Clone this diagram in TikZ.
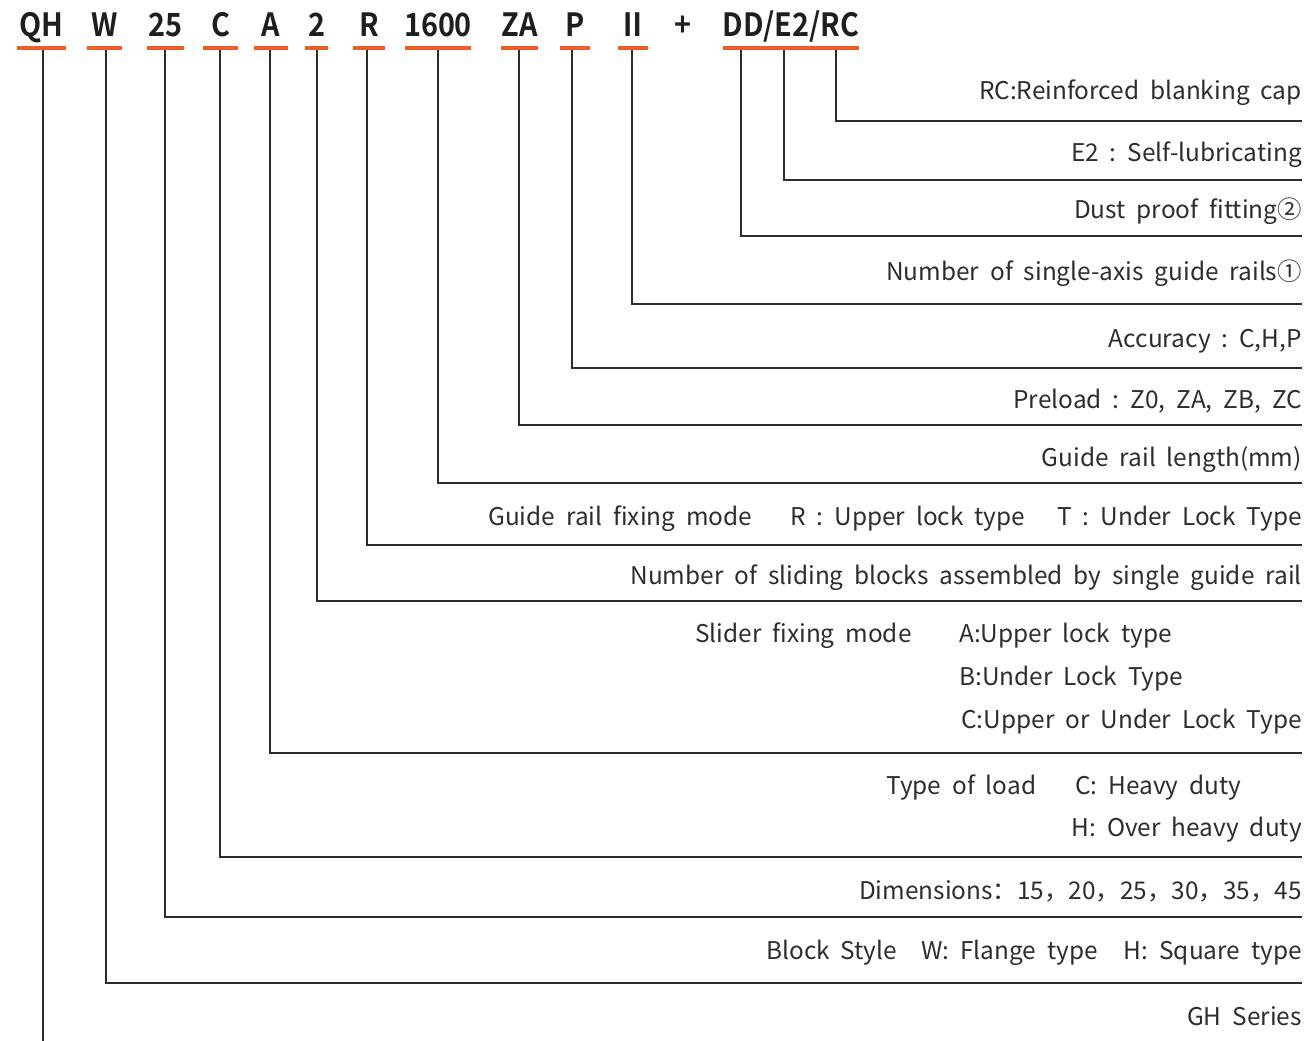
\documentclass[tikz,border=0pt]{standalone}
\usepackage{fontspec}
\setmainfont{Noto Sans CJK SC}
\newfontfamily\codefont{Noto Sans CJK SC Bold}[FakeStretch=0.9]
\usepackage{tikz}
\usetikzlibrary{positioning, calc}
\usepackage{xcolor}
\definecolor{ink}{RGB}{45,45,45}
\definecolor{codeink}{RGB}{30,30,30}
\definecolor{tangerine}{RGB}{241,92,40}

\begin{document}
\begin{tikzpicture}[x=0.75pt, y=-0.75pt,
    code/.style={font=\codefont\fontsize{24}{28}\selectfont, text=codeink, inner sep=0pt, anchor=base},
    bar/.style={tangerine, line width=2.4pt},
    leader/.style={ink, line width=1.5pt},
    desc/.style={font=\fontsize{18.3}{22}\selectfont, text=ink, inner sep=0pt, anchor=base east},
    opt/.style={font=\fontsize{18.3}{22}\selectfont, text=ink, inner sep=0pt, anchor=base west}]
  \useasboundingbox (0,0) rectangle (1305,1041);
  % ordering code with orange bars
  \foreach \name/\txt/\xl/\xr in {qh/QH/17/66, w/W/87/122, size/25/147/184, load/C/203/238,
      fix/A/254/288, nblk/2/305/328, rfix/R/353/385, len/1600/405/471, pre/ZA/501/538,
      acc/P/560/590, nrail/Ⅱ/618/648, opt/DD\slash E2\slash RC/723/859} {
    \node[code] (c-\name) at ({(\xl+\xr)/2}, 37) {\txt};
    \draw[bar] (\xl, 48) -- (\xr, 48);
  }
  \node[code] (c-plus) at (683, 37) {+};
  % leader lines
  \foreach \name/\xv/\yv in {rc/836/121, e2/784/180, dd/741/236, nrail/632/304, acc/572/368,
      pre/519/425, len/438/483, rfix/367/545, nblk/317/601, fix/270/753, load/220/857,
      size/165/917, w/106/983} {
    \coordinate (top-\name) at (\xv, 50);
    \coordinate (end-\name) at (1302, \yv);
    \draw[leader] (top-\name) |- (end-\name);
  }
  \coordinate (top-qh) at (43, 50);
  \coordinate (end-qh) at (43, 1041);
  \draw[leader] (top-qh) -- (end-qh);
  % descriptions
  \node[desc] (d-rc) at (1302, 100) {RC:Reinforced\ \ blanking\ \ cap};
  \node[desc] (d-e2) at (1302, 162) {E2\ \ :\ \ Self-lubricating};
  \node[desc] (d-dd) at (1302, 219) {Dust\ \ proof\ \ fitting②};
  \node[desc] (d-nrail) at (1302, 280) {Number\ \ of\ \ single-axis\ \ guide\ \ rails①};
  \node[desc] (d-acc) at (1302, 347) {Accuracy\ \ :\ \ C,H,P};
  \node[desc] (d-pre) at (1302, 408) {Preload\ \ :\ \ Z0,\ \ ZA,\ \ ZB,\ \ ZC};
  \node[desc] (d-len) at (1302, 466) {Guide\ \ rail\ \ length(mm)};
  \node[opt] (d-rfix) at (488, 525) {Guide\ \ rail\ \ fixing\ \ mode};
  \node[opt] (d-rfix-r) at (790, 525) {R\ \ :\ \ Upper\ \ lock\ \ type};
  \node[desc] (d-rfix-t) at (1302, 525) {T\ \ :\ \ Under\ \ Lock\ \ Type};
  \node[desc] (d-nblk) at (1302, 584) {Number\ \ of\ \ sliding\ \ blocks\ \ assembled\ \ by\ \ single\ \ guide\ \ rail};
  \node[opt] (d-fix) at (695, 642) {Slider\ \ fixing\ \ mode};
  \node[opt] (d-fix-a) at (959, 642) {A:Upper\ \ lock\ \ type};
  \node[opt] (d-fix-b) at (959, 685) {B:Under\ \ Lock\ \ Type};
  \node[desc] (d-fix-c) at (1302, 728) {C:Upper\ \ or\ \ Under\ \ Lock\ \ Type};
  \node[opt] (d-load) at (886, 794) {Type\ \ of\ \ load};
  \node[opt] (d-load-c) at (1075, 794) {C:\ \ Heavy\ \ duty};
  \node[desc] (d-load-h) at (1302, 836) {H:\ \ Over\ \ heavy\ \ duty};
  \node[desc] (d-size) at (1302, 899) {Dimensions：15，20，25，30，35，45};
  \node[opt] (d-w) at (766, 959) {Block\ \ Style};
  \node[opt] (d-w-w) at (921, 959) {W:\ \ Flange\ \ type};
  \node[desc] (d-w-h) at (1302, 959) {H:\ \ Square\ \ type};
  \node[desc] (d-qh) at (1302, 1025) {GH\ \ Series};
\end{tikzpicture}
\end{document}
